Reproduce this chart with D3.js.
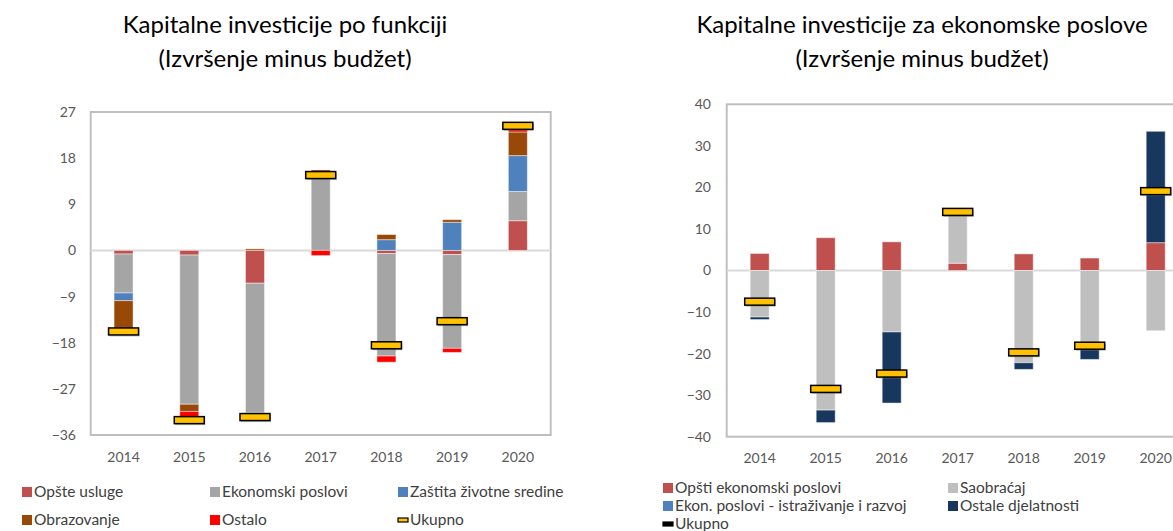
<!DOCTYPE html>
<html>
<head>
<meta charset="utf-8">
<script src="https://cdn.jsdelivr.net/npm/d3@7/dist/d3.min.js"></script>
<style>
  html, body { margin: 0; padding: 0; background: #fff; }
  svg { display: block; font-family: Lato, "Noto Sans", sans-serif; }
</style>
</head>
<body>
<svg id="chart" width="1173" height="531"></svg>
<script>
// ---------- DATA ----------
const years = ["2014", "2015", "2016", "2017", "2018", "2019", "2020"];

// Left chart: Kapitalne investicije po funkciji
const opsteUsluge      = [-0.7, -0.9, -6.4, 0.0, -0.6, -0.8, 5.8];
const ekonomskiPoslovi = [-7.6, -29.1, -25.2, 15.3, -20.0, -18.3, 5.7];
const zastitaSredine   = [-1.5, 0.0, -0.3, 0.0, 2.1, 5.5, 7.0];
const obrazovanje      = [-5.4, -1.4, 0.3, 0.4, 1.0, 0.5, 4.6];
const ostalo           = [0.0, -1.2, 0.0, -1.0, -1.2, -0.8, 0.6];
const ukupnoFunkcija   = [-15.8, -33.1, -32.5, 14.7, -18.5, -13.8, 24.3];
const leftTicks = [27, 18, 9, 0, -9, -18, -27, -36];

// Right chart: Kapitalne investicije za ekonomske poslove
const opstiEkonomski    = [4.1, 7.9, 6.9, 1.75, 4.0, 3.0, 6.7];
const saobracaj         = [-11.2, -33.6, -14.8, 11.5, -22.2, -19.0, -14.5];
const istrazivanje      = [0, 0, 0, 0, 0, 0, 0];
const ostaleDjelatnosti = [-0.6, -3.0, -17.1, 0.0, -1.6, -2.4, 26.8];
const ukupnoEkonomski   = [-7.5, -28.5, -24.8, 14.1, -19.7, -18.1, 19.1];
const rightTicks = [40, 30, 20, 10, 0, -10, -20, -30, -40];

const leftSeries = [
  {name: "Opšte usluge", values: opsteUsluge, color: "#C0504D"},
  {name: "Ekonomski poslovi", values: ekonomskiPoslovi, color: "#A5A5A5"},
  {name: "Zaštita životne sredine", values: zastitaSredine, color: "#4F81BD"},
  {name: "Obrazovanje", values: obrazovanje, color: "#984807"},
  {name: "Ostalo", values: ostalo, color: "#FF0000"}
];
const rightSeries = [
  {name: "Opšti ekonomski poslovi", values: opstiEkonomski, color: "#C0504D"},
  {name: "Saobraćaj", values: saobracaj, color: "#BFBFBF"},
  {name: "Ekon. poslovi - istraživanje i razvoj", values: istrazivanje, color: "#4F81BD"},
  {name: "Ostale djelatnosti", values: ostaleDjelatnosti, color: "#17375E"}
];

const svg = d3.select("#chart");

function drawChart(cfg) {
  const g = svg.append("g");
  const x = d3.scaleBand().domain(years).range([cfg.left, cfg.right]);
  const y = d3.scaleLinear().domain(cfg.domain).range([cfg.bottom, cfg.top]);

  // titles
  cfg.titles.forEach((t, i) => {
    g.append("text").attr("x", cfg.titleX).attr("y", cfg.titleY[i])
      .attr("text-anchor", "middle").attr("font-size", 24).attr("fill", "#000")
      .attr("font-weight", 400)
      .text(t);
  });

  // frame
  g.append("rect").attr("x", cfg.left).attr("y", cfg.top)
    .attr("width", cfg.right - cfg.left).attr("height", cfg.bottom - cfg.top)
    .attr("fill", "none").attr("stroke", "#BFBFBF").attr("stroke-width", 2);

  // y axis labels
  const yAxis = d3.axisLeft(y).tickValues(cfg.ticks).tickSize(0).tickPadding(0)
    .tickFormat(d3.format("d"));
  const ya = g.append("g").attr("transform", `translate(${cfg.yLabelX},0)`).call(yAxis);
  ya.select(".domain").remove();
  ya.selectAll("text").attr("font-size", 14).attr("fill", "#595959")
    .attr("font-family", "Lato, sans-serif");

  // x axis labels
  const xAxis = d3.axisBottom(x).tickSize(0).tickPadding(0);
  const xa = g.append("g").attr("transform", `translate(0,${cfg.xLabelY})`).call(xAxis);
  xa.select(".domain").remove();
  xa.selectAll("text").attr("font-size", 14).attr("fill", "#595959")
    .attr("font-family", "Lato, sans-serif");

  // zero line
  g.append("line").attr("x1", cfg.left).attr("x2", cfg.right)
    .attr("y1", y(0)).attr("y2", y(0))
    .attr("stroke", "#D9D9D9").attr("stroke-width", 2);

  // stacked bars
  const table = years.map((yr, i) => {
    const row = {year: yr};
    cfg.series.forEach(s => row[s.name] = s.values[i]);
    return row;
  });
  const stack = d3.stack().keys(cfg.series.map(s => s.name))
    .offset(d3.stackOffsetDiverging)(table);
  const bw = 19;
  stack.forEach((layer, li) => {
    g.append("g").selectAll("rect").data(layer).join("rect")
      .attr("x", d => x(d.data.year) + x.bandwidth() / 2 - bw / 2)
      .attr("y", d => y(Math.max(d[0], d[1])))
      .attr("width", bw)
      .attr("height", d => Math.abs(y(d[0]) - y(d[1])))
      .attr("fill", cfg.series[li].color)
      .attr("stroke", "#fff").attr("stroke-opacity", 0.45).attr("stroke-width", 1);
  });

  // Ukupno markers
  const mw = 30, mh = 7;
  const mk = g.append("g");
  mk.selectAll("rect.sh").data(cfg.total).join("rect").attr("class", "sh")
    .attr("x", (d, i) => x(years[i]) + x.bandwidth() / 2 - mw / 2 + 1)
    .attr("y", d => y(d) - mh / 2 + 1.5)
    .attr("width", mw).attr("height", mh)
    .attr("fill", "#7f7f7f").attr("opacity", 0.5);
  mk.selectAll("rect.m").data(cfg.total).join("rect").attr("class", "m")
    .attr("x", (d, i) => x(years[i]) + x.bandwidth() / 2 - mw / 2)
    .attr("y", d => y(d) - mh / 2)
    .attr("width", mw).attr("height", mh)
    .attr("fill", "#FFC000").attr("stroke", "#000").attr("stroke-width", 1.5);

  // legend
  const items = cfg.series.map(s => ({name: s.name, color: s.color, type: "sq"}))
    .concat([{name: "Ukupno", type: "line"}]);
  items.forEach((it, i) => {
    const p = cfg.legendPos[i];
    const lg = g.append("g");
    if (it.type === "sq") {
      lg.append("rect").attr("x", p[0]).attr("y", p[1] - 5).attr("width", 10).attr("height", 10)
        .attr("fill", it.color);
    } else {
      lg.append("rect").attr("x", p[0]).attr("y", p[1] - 2).attr("width", 10).attr("height", 4)
        .attr("fill", cfg.lineLegendFill).attr("stroke", "#000").attr("stroke-width", 1.2);
    }
    lg.append("text").attr("x", p[0] + 12).attr("y", p[1]).attr("dy", "0.35em")
      .attr("font-size", 15.5).attr("fill", "#404040").text(it.name);
  });
}

drawChart({
  left: 90.7, right: 550.7, top: 112, bottom: 435,
  domain: [-36, 27], ticks: leftTicks,
  yLabelX: 76, xLabelY: 452,
  titles: ["Kapitalne investicije po funkciji", "(Izvršenje minus budžet)"],
  titleX: 285, titleY: [33, 67],
  series: leftSeries, total: ukupnoFunkcija, lineLegendFill: "#FFC000",
  legendPos: [[22, 492], [210, 492], [398, 492], [22, 520], [210, 520], [398, 520]]
});

drawChart({
  left: 726.7, right: 1188.7, top: 104.3, bottom: 436.7,
  domain: [-40, 40], ticks: rightTicks,
  yLabelX: 711, xLabelY: 453,
  titles: ["Kapitalne investicije za ekonomske poslove", "(Izvršenje minus budžet)"],
  titleX: 922, titleY: [33, 67],
  series: rightSeries, total: ukupnoEkonomski, lineLegendFill: "#000",
  legendPos: [[663, 488], [948, 488], [663, 506], [948, 506], [663, 524]]
});
</script>
</body>
</html>
